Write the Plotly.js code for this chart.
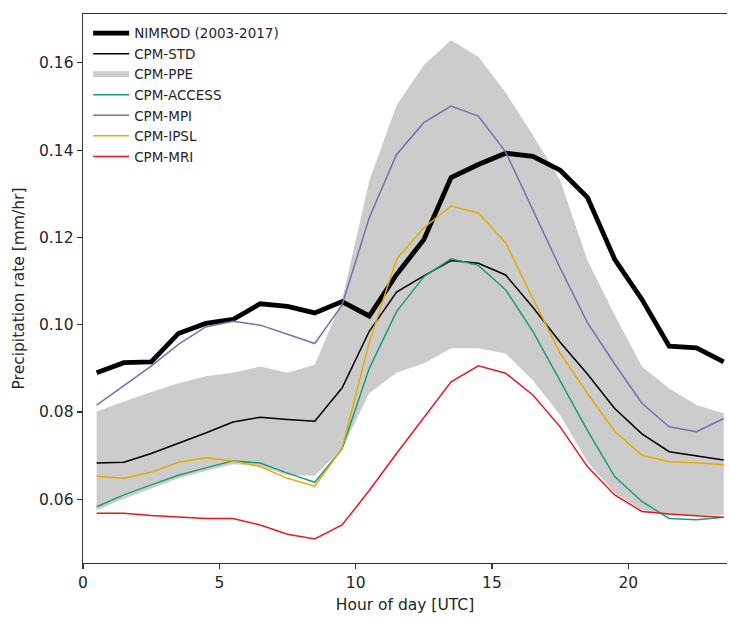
<!DOCTYPE html>
<html>
<head>
<meta charset="utf-8">
<script src="https://cdn.plot.ly/plotly-3.0.1.min.js"></script>
<style>
  html, body { margin: 0; padding: 0; background: #ffffff; }
  #chart { width: 729px; height: 619px; }
</style>
</head>
<body>
<div id="chart"></div>
<script>
// Diurnal cycle of mean precipitation rate, hourly (bin centres, UTC)
const hours = [0.5, 1.5, 2.5, 3.5, 4.5, 5.5, 6.5, 7.5, 8.5, 9.5, 10.5, 11.5,
               12.5, 13.5, 14.5, 15.5, 16.5, 17.5, 18.5, 19.5, 20.5, 21.5, 22.5, 23.5];

// Radar observations
const nimrod = [0.0890, 0.0913, 0.0915, 0.0980, 0.1003, 0.1012, 0.1048, 0.1042,
                0.1027, 0.1053, 0.1020, 0.1115, 0.1195, 0.1337, 0.1367, 0.1393,
                0.1386, 0.1354, 0.1292, 0.1150, 0.1058, 0.0951, 0.0947, 0.0915];

// Standard convection-permitting model
const cpmStd = [0.0683, 0.0685, 0.0705, 0.0728, 0.0752, 0.0777, 0.0788, 0.0783,
                0.0779, 0.0855, 0.0985, 0.1075, 0.1112, 0.1147, 0.1141, 0.1114,
                0.1040, 0.0960, 0.0887, 0.0808, 0.0750, 0.0709, 0.0700, 0.0690];

// Perturbed-parameter ensemble spread (min / max)
const ppeLow  = [0.0575, 0.0601, 0.0624, 0.0648, 0.0665, 0.0680, 0.0676, 0.0655,
                 0.0654, 0.0715, 0.0843, 0.0890, 0.0911, 0.0946, 0.0946, 0.0934,
                 0.0872, 0.0793, 0.0686, 0.0614, 0.0575, 0.0564, 0.0564, 0.0564];
const ppeHigh = [0.0801, 0.0824, 0.0846, 0.0866, 0.0882, 0.0890, 0.0904, 0.0890,
                 0.0908, 0.1056, 0.1330, 0.1503, 0.1595, 0.1652, 0.1614, 0.1532,
                 0.1435, 0.1331, 0.1148, 0.1022, 0.0904, 0.0854, 0.0816, 0.0797];

// Driving-GCM members
const cpmAccess = [0.0583, 0.0610, 0.0633, 0.0655, 0.0672, 0.0688, 0.0683, 0.0660,
                   0.0639, 0.0715, 0.0900, 0.1030, 0.1110, 0.1151, 0.1136, 0.1080,
                   0.0985, 0.0872, 0.0758, 0.0652, 0.0595, 0.0556, 0.0553, 0.0559];
const cpmMpi = [0.0816, 0.0860, 0.0905, 0.0955, 0.0995, 0.1008, 0.0999, 0.0978,
                0.0957, 0.1045, 0.1245, 0.1390, 0.1463, 0.1501, 0.1478, 0.1396,
                0.1262, 0.1130, 0.1005, 0.0910, 0.0820, 0.0766, 0.0755, 0.0785];
const cpmIpsl = [0.0653, 0.0648, 0.0662, 0.0685, 0.0695, 0.0688, 0.0675, 0.0648,
                 0.0630, 0.0716, 0.0960, 0.1150, 0.1222, 0.1272, 0.1256, 0.1188,
                 0.1060, 0.0935, 0.0843, 0.0756, 0.0701, 0.0686, 0.0684, 0.0679];
const cpmMri = [0.0568, 0.0568, 0.0563, 0.0560, 0.0556, 0.0556, 0.0541, 0.0520,
                0.0509, 0.0541, 0.0620, 0.0705, 0.0788, 0.0869, 0.0906, 0.0889,
                0.0839, 0.0766, 0.0675, 0.0610, 0.0572, 0.0566, 0.0562, 0.0559];

const yTicks = [0.06, 0.08, 0.10, 0.12, 0.14, 0.16];
const xTicks = [0, 5, 10, 15, 20];

const FONT = 'DejaVu Sans, Liberation Sans, sans-serif';
const INK = '#262626';

function thin(name, y, color, rank) {
  return {
    x: hours, y: y, name: name, type: 'scatter', mode: 'lines',
    line: { color: color, width: 1.5 }, legendrank: rank, hoverinfo: 'skip'
  };
}

const traces = [
  {
    // ensemble envelope as one closed polygon
    x: hours.concat(hours.slice().reverse()),
    y: ppeHigh.concat(ppeLow.slice().reverse()),
    name: 'CPM-PPE', type: 'scatter', mode: 'none',
    fill: 'toself', fillcolor: '#cccccc', legendrank: 3, hoverinfo: 'skip'
  },
  {
    x: hours, y: nimrod, name: 'NIMROD (2003-2017)', type: 'scatter', mode: 'lines',
    line: { color: '#000000', width: 4.8 }, legendrank: 1, hoverinfo: 'skip'
  },
  thin('CPM-STD', cpmStd, '#000000', 2),
  thin('CPM-ACCESS', cpmAccess, '#1b9e77', 4),
  thin('CPM-MPI', cpmMpi, '#7570b3', 5),
  thin('CPM-IPSL', cpmIpsl, '#e6ab02', 6),
  thin('CPM-MRI', cpmMri, '#e41a1c', 7)
];

const layout = {
  width: 729, height: 619,
  margin: { l: 83, r: 2, t: 14, b: 56 },
  paper_bgcolor: '#ffffff', plot_bgcolor: '#ffffff',
  font: { family: FONT, color: INK, size: 15.5 },
  showlegend: true,
  legend: {
    x: 0.008, y: 0.993, xanchor: 'left', yanchor: 'top',
    bgcolor: 'rgba(0,0,0,0)', borderwidth: 0,
    font: { family: FONT, size: 13.5, color: INK },
    traceorder: 'normal', tracegroupgap: 0, itemwidth: 36
  },
  xaxis: {
    range: [0, 23.62], tickvals: xTicks, ticktext: xTicks.map(String),
    showgrid: false, zeroline: false,
    showline: true, linecolor: '#333333', linewidth: 1.4, mirror: true,
    ticks: 'outside', ticklen: 5, tickwidth: 1.2, tickcolor: '#333333',
    tickfont: { family: FONT, size: 15.5, color: INK },
    title: { text: 'Hour of day [UTC]', font: { family: FONT, size: 15.5, color: INK }, standoff: 8 }
  },
  yaxis: {
    range: [0.0454, 0.1712], tickvals: yTicks, ticktext: yTicks.map(v => v.toFixed(2)),
    showgrid: false, zeroline: false,
    showline: true, linecolor: '#333333', linewidth: 1.4, mirror: false,
    ticks: 'outside', ticklen: 5, tickwidth: 1.2, tickcolor: '#333333',
    tickfont: { family: FONT, size: 15.5, color: INK },
    title: { text: 'Precipitation rate [mm/hr]', font: { family: FONT, size: 15.5, color: INK }, standoff: 10 }
  }
};

Plotly.newPlot('chart', traces, layout, { displayModeBar: false, staticPlot: true });
</script>
</body>
</html>
